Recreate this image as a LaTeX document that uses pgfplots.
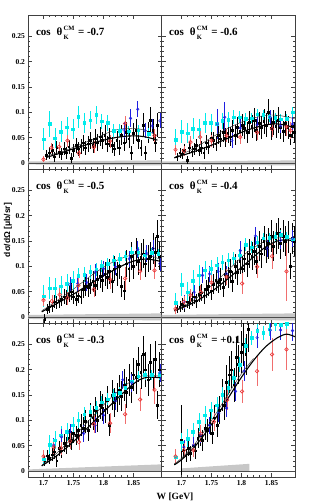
\documentclass[border=0pt]{standalone}
\usepackage{pgfplots}
\pgfplotsset{compat=1.18}
\usepackage{fontspec}
\setmainfont{Liberation Serif}
\newfontfamily\sansb{Liberation Sans}
\definecolor{cyn}{RGB}{0,235,235}
\definecolor{blu}{RGB}{30,30,225}
\definecolor{rd}{RGB}{235,55,55}
\definecolor{rdl}{RGB}{240,110,110}
\newcommand{\ttl}[1]{\fontsize{11}{12}\selectfont\bfseries cos\hspace{0.55em}θ\kern1.2pt\raisebox{-0.75ex}{\rlap{\fontsize{6.5}{7}\selectfont K}}\raisebox{1.05ex}{\fontsize{6.5}{7}\selectfont CM}\kern0.8pt{} = #1}
\pgfplotsset{
  panel/.style={scale only axis, width=133.2pt, height=154pt,
    ymin=-0.012, ymax=0.292, axis line style={line width=0.6pt, black!75},
    ytick={0,0.05,0.1,0.15,0.2,0.25}, yticklabels={0,0.05,0.1,0.15,0.2,0.25},
    xtick={1.7,1.75,1.8,1.85}, xticklabels={1.7,1.75,1.8,1.85},
    minor x tick num=4, minor y tick num=4,
    major tick length=4pt, minor tick length=2pt,
    tick style={line width=0.4pt, black!75},
    tick pos=both, tick align=inside,
    ticklabel style={font=\fontsize{7.5}{8}\selectfont\bfseries},
    scaled ticks=false},
  leftcol/.style={xmin=1.675, xmax=1.897},
  rightcol/.style={xmin=1.667, xmax=1.889, yticklabels={}},
  notx/.style={xticklabels={}},
  blk/.style={only marks, mark=square*, mark size=0.85pt, black,
    error bars/.cd, y dir=both, y explicit, error mark=none, error bar style={line width=0.4pt, black}},
  cy/.style={only marks, mark=square*, mark size=1.25pt, cyn,
    error bars/.cd, y dir=both, y explicit, error mark=none, error bar style={line width=0.5pt, cyn}},
  bl/.style={only marks, mark=o, mark size=1.3pt, blu, mark options={line width=0.5pt},
    error bars/.cd, y dir=both, y explicit, error mark=none, error bar style={line width=0.5pt, blu}},
  rdd/.style={only marks, mark=o, mark size=1.8pt, rd, mark options={line width=0.6pt},
    error bars/.cd, y dir=both, y explicit, error mark=none, error bar style={line width=0.5pt, rdl}},
  thk/.style={smooth, no marks, black, line width=1.1pt},
  thn/.style={smooth, no marks, black!80, line width=0.45pt},
  band/.style={fill=black!22, draw=none},
  zl/.style={black!70, line width=0.5pt, no marks},
}
\begin{document}
\begin{tikzpicture}
\useasboundingbox (0pt,0pt) rectangle (311pt,-504pt);
% ---------------- cos = -0.7
\begin{axis}[panel, leftcol, notx, at={(28.5pt,-15pt)}, anchor=north west]
\addplot[band] coordinates {(1.675,-0.003) (1.897,-0.005) (1.897,0.005) (1.675,0.003)} -- cycle;
\addplot[zl] coordinates {(1.675,0) (1.897,0)};
\addplot[blk] coordinates {
(1.705,0.015) +- (0,0.010) (1.710,0.020) +- (0,0.012) (1.714,0.025) +- (0,0.012) (1.718,0.012) +- (0,0.010)
(1.722,0.030) +- (0,0.013) (1.726,0.022) +- (0,0.012) (1.730,0.018) +- (0,0.012) (1.734,0.028) +- (0,0.013)
(1.738,0.020) +- (0,0.012) (1.742,0.032) +- (0,0.014) (1.746,0.010) +- (0,0.010) (1.750,0.025) +- (0,0.013)
(1.754,0.035) +- (0,0.015) (1.758,0.028) +- (0,0.014) (1.762,0.033) +- (0,0.015) (1.766,0.040) +- (0,0.016)
(1.770,0.030) +- (0,0.014) (1.774,0.038) +- (0,0.016) (1.778,0.045) +- (0,0.017) (1.782,0.035) +- (0,0.015)
(1.786,0.048) +- (0,0.018) (1.790,0.040) +- (0,0.017) (1.794,0.052) +- (0,0.018) (1.798,0.045) +- (0,0.017)
(1.802,0.055) +- (0,0.019) (1.806,0.038) +- (0,0.016) (1.810,0.050) +- (0,0.018) (1.814,0.035) +- (0,0.016)
(1.818,0.028) +- (0,0.014) (1.822,0.045) +- (0,0.018) (1.826,0.030) +- (0,0.015) (1.830,0.055) +- (0,0.019)
(1.834,0.040) +- (0,0.017) (1.838,0.060) +- (0,0.020) (1.842,0.048) +- (0,0.018) (1.846,0.020) +- (0,0.014)
(1.850,0.058) +- (0,0.020) (1.854,0.065) +- (0,0.022) (1.858,0.045) +- (0,0.018) (1.862,0.030) +- (0,0.016)
(1.866,0.075) +- (0,0.023) (1.870,0.020) +- (0,0.014) (1.874,0.060) +- (0,0.021) (1.878,0.085) +- (0,0.025)
(1.882,0.065) +- (0,0.022) (1.886,0.040) +- (0,0.018) (1.890,0.075) +- (0,0.023)};
\addplot[cy] coordinates {
(1.700,0.047) +- (0,0.022) (1.710,0.077) +- (0,0.025) (1.719,0.049) +- (0,0.020) (1.729,0.062) +- (0,0.020)
(1.739,0.071) +- (0,0.020) (1.749,0.067) +- (0,0.020) (1.758,0.091) +- (0,0.022) (1.768,0.079) +- (0,0.020)
(1.778,0.084) +- (0,0.018) (1.788,0.095) +- (0,0.018) (1.797,0.082) +- (0,0.015) (1.807,0.079) +- (0,0.015)
(1.817,0.064) +- (0,0.012) (1.827,0.064) +- (0,0.012) (1.842,0.063) +- (0,0.010) (1.858,0.065) +- (0,0.010)
(1.875,0.058) +- (0,0.010)};
\addplot[bl] coordinates {
(1.834,0.065) +- (0,0.015) (1.845,0.088) +- (0,0.018) (1.857,0.106) +- (0,0.016) (1.869,0.064) +- (0,0.014)
(1.881,0.073) +- (0,0.014) (1.894,0.083) +- (0,0.015)};
\addplot[rdd] coordinates {
(1.700,0.007) +- (0,0.006) (1.713,0.030) +- (0,0.010) (1.726,0.032) +- (0,0.010) (1.740,0.044) +- (0,0.012)
(1.759,0.019) +- (0,0.010) (1.784,0.031) +- (0,0.012) (1.811,0.043) +- (0,0.013) (1.836,0.078) +- (0,0.014)
(1.885,0.054) +- (0,0.012)};
\addplot[thn] coordinates {(1.705,0.014) (1.73,0.022) (1.75,0.031) (1.775,0.043) (1.80,0.056) (1.82,0.065) (1.84,0.068) (1.86,0.067) (1.875,0.062) (1.89,0.054)};
\addplot[thk] coordinates {(1.705,0.011) (1.73,0.020) (1.75,0.028) (1.775,0.037) (1.80,0.045) (1.82,0.050) (1.84,0.053) (1.86,0.053) (1.875,0.050) (1.89,0.045)};
\node[anchor=west] at (rel axis cs:0.03,0.885) {\ttl{-0.7}};
\end{axis}
% ---------------- cos = -0.6
\begin{axis}[panel, rightcol, notx, at={(161.7pt,-15pt)}, anchor=north west]
\addplot[band] coordinates {(1.667,-0.003) (1.889,-0.005) (1.889,0.005) (1.667,0.003)} -- cycle;
\addplot[zl] coordinates {(1.667,0) (1.889,0)};
\addplot[blk] coordinates {
(1.692,0.012) +- (0,0.008) (1.697,0.020) +- (0,0.010) (1.701,0.018) +- (0,0.010) (1.705,0.025) +- (0,0.012)
(1.709,0.005) +- (0,0.008) (1.713,0.030) +- (0,0.012) (1.717,0.022) +- (0,0.011) (1.721,0.028) +- (0,0.012)
(1.725,0.035) +- (0,0.013) (1.729,0.025) +- (0,0.012) (1.733,0.030) +- (0,0.013) (1.737,0.020) +- (0,0.012)
(1.741,0.040) +- (0,0.015) (1.745,0.032) +- (0,0.014) (1.749,0.050) +- (0,0.017) (1.753,0.045) +- (0,0.016)
(1.757,0.038) +- (0,0.015) (1.761,0.055) +- (0,0.018) (1.765,0.048) +- (0,0.017) (1.769,0.060) +- (0,0.019)
(1.773,0.050) +- (0,0.018) (1.777,0.058) +- (0,0.019) (1.781,0.052) +- (0,0.018) (1.785,0.065) +- (0,0.020)
(1.789,0.055) +- (0,0.019) (1.793,0.070) +- (0,0.021) (1.797,0.062) +- (0,0.020) (1.801,0.075) +- (0,0.022)
(1.805,0.068) +- (0,0.021) (1.809,0.060) +- (0,0.020) (1.813,0.080) +- (0,0.023) (1.817,0.072) +- (0,0.022)
(1.821,0.085) +- (0,0.024) (1.825,0.065) +- (0,0.021) (1.829,0.078) +- (0,0.023) (1.833,0.070) +- (0,0.022)
(1.837,0.082) +- (0,0.024) (1.841,0.075) +- (0,0.023) (1.845,0.100) +- (0,0.026) (1.849,0.068) +- (0,0.022)
(1.853,0.080) +- (0,0.024) (1.857,0.072) +- (0,0.023) (1.861,0.085) +- (0,0.025) (1.865,0.070) +- (0,0.022)
(1.869,0.062) +- (0,0.021) (1.873,0.078) +- (0,0.024) (1.877,0.070) +- (0,0.023) (1.881,0.055) +- (0,0.020)
(1.885,0.072) +- (0,0.023) (1.888,0.060) +- (0,0.021)};
\addplot[cy] coordinates {
(1.690,0.046) +- (0,0.020) (1.700,0.062) +- (0,0.022) (1.710,0.059) +- (0,0.020) (1.719,0.068) +- (0,0.020)
(1.729,0.067) +- (0,0.020) (1.739,0.079) +- (0,0.020) (1.749,0.079) +- (0,0.018) (1.759,0.077) +- (0,0.018)
(1.768,0.083) +- (0,0.016) (1.778,0.085) +- (0,0.015) (1.787,0.090) +- (0,0.014) (1.797,0.090) +- (0,0.012)
(1.807,0.087) +- (0,0.012) (1.817,0.088) +- (0,0.010) (1.826,0.096) +- (0,0.010) (1.836,0.095) +- (0,0.010)
(1.846,0.091) +- (0,0.010) (1.856,0.089) +- (0,0.010) (1.865,0.086) +- (0,0.010) (1.875,0.087) +- (0,0.010)
(1.885,0.100) +- (0,0.010)};
\addplot[bl] coordinates {
(1.760,0.077) +- (0,0.030) (1.772,0.090) +- (0,0.030) (1.784,0.044) +- (0,0.015) (1.798,0.069) +- (0,0.018)
(1.826,0.075) +- (0,0.015) (1.848,0.090) +- (0,0.015) (1.865,0.073) +- (0,0.014) (1.885,0.077) +- (0,0.014)};
\addplot[rdd] coordinates {
(1.690,0.026) +- (0,0.010) (1.704,0.024) +- (0,0.010) (1.715,0.041) +- (0,0.012) (1.731,0.051) +- (0,0.013)
(1.750,0.044) +- (0,0.012) (1.775,0.054) +- (0,0.013) (1.798,0.051) +- (0,0.014) (1.826,0.060) +- (0,0.015)
(1.851,0.067) +- (0,0.016) (1.875,0.071) +- (0,0.018) (1.882,0.064) +- (0,0.016)};
\addplot[thn] coordinates {(1.688,0.011) (1.72,0.028) (1.75,0.050) (1.78,0.070) (1.81,0.085) (1.84,0.094) (1.86,0.094) (1.875,0.091) (1.889,0.087)};
\addplot[thk] coordinates {(1.688,0.010) (1.72,0.022) (1.75,0.035) (1.78,0.050) (1.81,0.065) (1.84,0.075) (1.86,0.077) (1.875,0.074) (1.889,0.069)};
\node[anchor=west] at (rel axis cs:0.03,0.885) {\ttl{-0.6}};
\end{axis}
% ---------------- cos = -0.5
\begin{axis}[panel, leftcol, notx, at={(28.5pt,-169pt)}, anchor=north west]
\addplot[band] coordinates {(1.675,-0.004) (1.897,-0.007) (1.897,0.007) (1.675,0.004)} -- cycle;
\addplot[zl] coordinates {(1.675,0) (1.897,0)};
\addplot[blk] coordinates {
(1.702,-0.005) +- (0,0.010) (1.706,0.015) +- (0,0.010) (1.710,0.020) +- (0,0.012) (1.714,0.022) +- (0,0.012)
(1.718,0.030) +- (0,0.013) (1.722,0.028) +- (0,0.013) (1.726,0.032) +- (0,0.014) (1.730,0.035) +- (0,0.014)
(1.734,0.040) +- (0,0.015) (1.738,0.038) +- (0,0.015) (1.742,0.045) +- (0,0.016) (1.746,0.050) +- (0,0.017)
(1.750,0.040) +- (0,0.015) (1.754,0.035) +- (0,0.014) (1.758,0.042) +- (0,0.015) (1.762,0.040) +- (0,0.015)
(1.766,0.055) +- (0,0.018) (1.770,0.060) +- (0,0.019) (1.774,0.058) +- (0,0.019) (1.778,0.065) +- (0,0.020)
(1.782,0.070) +- (0,0.021) (1.786,0.062) +- (0,0.020) (1.790,0.075) +- (0,0.022) (1.794,0.080) +- (0,0.023)
(1.798,0.072) +- (0,0.022) (1.802,0.085) +- (0,0.024) (1.806,0.078) +- (0,0.023) (1.810,0.090) +- (0,0.025)
(1.814,0.070) +- (0,0.022) (1.818,0.095) +- (0,0.025) (1.822,0.085) +- (0,0.024) (1.826,0.100) +- (0,0.026)
(1.830,0.060) +- (0,0.020) (1.834,0.052) +- (0,0.018) (1.838,0.105) +- (0,0.027) (1.842,0.095) +- (0,0.026)
(1.846,0.120) +- (0,0.028) (1.850,0.100) +- (0,0.026) (1.854,0.128) +- (0,0.028) (1.858,0.110) +- (0,0.027)
(1.862,0.118) +- (0,0.028) (1.866,0.125) +- (0,0.028) (1.870,0.105) +- (0,0.026) (1.874,0.115) +- (0,0.027)
(1.878,0.120) +- (0,0.028) (1.882,0.135) +- (0,0.030) (1.886,0.128) +- (0,0.029) (1.890,0.160) +- (0,0.032)
(1.893,0.120) +- (0,0.028)};
\addplot[cy] coordinates {
(1.700,0.041) +- (0,0.022) (1.710,0.057) +- (0,0.022) (1.719,0.057) +- (0,0.020) (1.729,0.061) +- (0,0.020)
(1.739,0.066) +- (0,0.018) (1.749,0.072) +- (0,0.018) (1.758,0.081) +- (0,0.016) (1.768,0.083) +- (0,0.015)
(1.778,0.089) +- (0,0.014) (1.788,0.094) +- (0,0.013) (1.797,0.101) +- (0,0.012) (1.807,0.105) +- (0,0.012)
(1.817,0.112) +- (0,0.011) (1.827,0.115) +- (0,0.011) (1.836,0.120) +- (0,0.010) (1.847,0.128) +- (0,0.010)
(1.858,0.128) +- (0,0.010) (1.869,0.122) +- (0,0.010) (1.880,0.127) +- (0,0.010) (1.891,0.125) +- (0,0.010)};
\addplot[bl] coordinates {
(1.744,0.064) +- (0,0.015) (1.757,0.066) +- (0,0.015) (1.772,0.068) +- (0,0.016) (1.786,0.089) +- (0,0.016)
(1.800,0.095) +- (0,0.016) (1.820,0.099) +- (0,0.016) (1.843,0.115) +- (0,0.016) (1.857,0.133) +- (0,0.016)
(1.872,0.125) +- (0,0.016) (1.883,0.135) +- (0,0.016) (1.894,0.105) +- (0,0.015)};
\addplot[rdd] coordinates {
(1.700,0.033) +- (0,0.012) (1.714,0.031) +- (0,0.012) (1.727,0.044) +- (0,0.013) (1.740,0.037) +- (0,0.013)
(1.758,0.062) +- (0,0.015) (1.784,0.054) +- (0,0.015) (1.811,0.074) +- (0,0.018) (1.836,0.076) +- (0,0.022)
(1.861,0.090) +- (0,0.018) (1.885,0.092) +- (0,0.018)};
\addplot[thn] coordinates {(1.697,0.012) (1.72,0.030) (1.75,0.055) (1.78,0.082) (1.81,0.105) (1.84,0.120) (1.86,0.124) (1.875,0.122) (1.894,0.114)};
\addplot[thk] coordinates {(1.697,0.010) (1.72,0.025) (1.75,0.045) (1.78,0.067) (1.81,0.088) (1.84,0.106) (1.86,0.113) (1.875,0.114) (1.894,0.110)};
\node[anchor=west] at (rel axis cs:0.03,0.885) {\ttl{-0.5}};
\end{axis}
% ---------------- cos = -0.4
\begin{axis}[panel, rightcol, notx, at={(161.7pt,-169pt)}, anchor=north west]
\addplot[band] coordinates {(1.667,-0.004) (1.889,-0.007) (1.889,0.007) (1.667,0.004)} -- cycle;
\addplot[zl] coordinates {(1.667,0) (1.889,0)};
\addplot[blk] coordinates {
(1.692,0.018) +- (0,0.010) (1.697,0.020) +- (0,0.011) (1.701,0.025) +- (0,0.012) (1.705,0.022) +- (0,0.012)
(1.709,0.030) +- (0,0.013) (1.713,0.028) +- (0,0.013) (1.717,0.035) +- (0,0.014) (1.721,0.040) +- (0,0.015)
(1.725,0.032) +- (0,0.014) (1.729,0.045) +- (0,0.016) (1.733,0.048) +- (0,0.017) (1.737,0.042) +- (0,0.016)
(1.741,0.055) +- (0,0.018) (1.745,0.060) +- (0,0.019) (1.749,0.052) +- (0,0.018) (1.753,0.065) +- (0,0.020)
(1.757,0.072) +- (0,0.021) (1.761,0.068) +- (0,0.021) (1.765,0.075) +- (0,0.022) (1.769,0.058) +- (0,0.019)
(1.773,0.085) +- (0,0.023) (1.777,0.080) +- (0,0.023) (1.781,0.090) +- (0,0.024) (1.785,0.070) +- (0,0.021)
(1.789,0.100) +- (0,0.025) (1.793,0.088) +- (0,0.024) (1.797,0.110) +- (0,0.026) (1.801,0.095) +- (0,0.025)
(1.805,0.115) +- (0,0.027) (1.809,0.105) +- (0,0.026) (1.813,0.125) +- (0,0.028) (1.817,0.120) +- (0,0.027)
(1.821,0.130) +- (0,0.028) (1.825,0.110) +- (0,0.026) (1.829,0.140) +- (0,0.029) (1.833,0.125) +- (0,0.028)
(1.837,0.150) +- (0,0.030) (1.841,0.135) +- (0,0.029) (1.845,0.145) +- (0,0.030) (1.849,0.160) +- (0,0.031)
(1.853,0.140) +- (0,0.029) (1.857,0.155) +- (0,0.030) (1.861,0.165) +- (0,0.031) (1.865,0.145) +- (0,0.030)
(1.869,0.160) +- (0,0.031) (1.873,0.150) +- (0,0.030) (1.877,0.158) +- (0,0.031) (1.881,0.100) +- (0,0.026)
(1.885,0.155) +- (0,0.030) (1.888,0.150) +- (0,0.030)};
\addplot[cy] coordinates {
(1.690,0.028) +- (0,0.020) (1.700,0.064) +- (0,0.022) (1.710,0.049) +- (0,0.020) (1.719,0.072) +- (0,0.020)
(1.729,0.082) +- (0,0.020) (1.739,0.092) +- (0,0.018) (1.749,0.095) +- (0,0.018) (1.759,0.102) +- (0,0.016)
(1.768,0.108) +- (0,0.015) (1.778,0.112) +- (0,0.014) (1.787,0.116) +- (0,0.013) (1.797,0.122) +- (0,0.012)
(1.807,0.143) +- (0,0.012) (1.817,0.138) +- (0,0.011) (1.826,0.148) +- (0,0.011) (1.836,0.155) +- (0,0.010)
(1.846,0.156) +- (0,0.010) (1.856,0.158) +- (0,0.010) (1.865,0.162) +- (0,0.010) (1.875,0.158) +- (0,0.010)
(1.885,0.153) +- (0,0.010)};
\addplot[bl] coordinates {
(1.704,0.030) +- (0,0.014) (1.721,0.049) +- (0,0.015) (1.735,0.082) +- (0,0.016) (1.747,0.085) +- (0,0.016)
(1.761,0.090) +- (0,0.016) (1.775,0.085) +- (0,0.016) (1.798,0.131) +- (0,0.018) (1.823,0.160) +- (0,0.018)
(1.843,0.135) +- (0,0.017) (1.865,0.151) +- (0,0.017) (1.885,0.155) +- (0,0.017)};
\addplot[rdd] coordinates {
(1.690,0.016) +- (0,0.010) (1.704,0.030) +- (0,0.012) (1.715,0.043) +- (0,0.013) (1.732,0.049) +- (0,0.014)
(1.750,0.068) +- (0,0.015) (1.775,0.079) +- (0,0.016) (1.801,0.066) +- (0,0.020) (1.826,0.099) +- (0,0.022)
(1.851,0.120) +- (0,0.025) (1.875,0.090) +- (0,0.058)};
\addplot[thn] coordinates {(1.688,0.013) (1.72,0.033) (1.75,0.062) (1.78,0.095) (1.81,0.128) (1.84,0.150) (1.86,0.156) (1.875,0.156) (1.889,0.153)};
\addplot[thk] coordinates {(1.688,0.012) (1.72,0.028) (1.75,0.050) (1.78,0.078) (1.81,0.108) (1.84,0.138) (1.86,0.150) (1.875,0.152) (1.889,0.150)};
\node[anchor=west] at (rel axis cs:0.03,0.885) {\ttl{-0.4}};
\end{axis}
% ---------------- cos = -0.3
\begin{axis}[panel, leftcol, at={(28.5pt,-323pt)}, anchor=north west]
\addplot[band] coordinates {(1.675,0) (1.897,0) (1.897,0.013) (1.675,0.003)} -- cycle;
\addplot[zl] coordinates {(1.675,0) (1.897,0)};
\addplot[blk] coordinates {
(1.702,0.020) +- (0,0.010) (1.706,0.030) +- (0,0.012) (1.710,0.025) +- (0,0.012) (1.714,0.032) +- (0,0.013)
(1.718,0.038) +- (0,0.014) (1.722,0.020) +- (0,0.012) (1.726,0.045) +- (0,0.015) (1.730,0.040) +- (0,0.015)
(1.734,0.055) +- (0,0.017) (1.738,0.050) +- (0,0.016) (1.742,0.065) +- (0,0.018) (1.746,0.060) +- (0,0.018)
(1.750,0.075) +- (0,0.020) (1.754,0.070) +- (0,0.019) (1.758,0.080) +- (0,0.021) (1.762,0.090) +- (0,0.022)
(1.766,0.085) +- (0,0.022) (1.770,0.098) +- (0,0.023) (1.774,0.080) +- (0,0.021) (1.778,0.110) +- (0,0.025)
(1.782,0.105) +- (0,0.024) (1.786,0.120) +- (0,0.026) (1.790,0.100) +- (0,0.024) (1.794,0.130) +- (0,0.027)
(1.798,0.125) +- (0,0.026) (1.802,0.120) +- (0,0.026) (1.806,0.140) +- (0,0.028) (1.810,0.090) +- (0,0.022)
(1.814,0.150) +- (0,0.029) (1.818,0.135) +- (0,0.028) (1.822,0.145) +- (0,0.029) (1.826,0.160) +- (0,0.030)
(1.830,0.148) +- (0,0.029) (1.834,0.170) +- (0,0.031) (1.838,0.155) +- (0,0.030) (1.842,0.180) +- (0,0.032)
(1.846,0.165) +- (0,0.031) (1.850,0.190) +- (0,0.033) (1.854,0.185) +- (0,0.033) (1.858,0.210) +- (0,0.035)
(1.862,0.195) +- (0,0.034) (1.866,0.230) +- (0,0.036) (1.870,0.200) +- (0,0.034) (1.874,0.180) +- (0,0.032)
(1.878,0.215) +- (0,0.035) (1.882,0.190) +- (0,0.033) (1.886,0.220) +- (0,0.036) (1.890,0.130) +- (0,0.028)
(1.893,0.200) +- (0,0.034)};
\addplot[cy] coordinates {
(1.700,0.023) +- (0,0.012) (1.710,0.052) +- (0,0.018) (1.719,0.061) +- (0,0.018) (1.729,0.071) +- (0,0.018)
(1.739,0.077) +- (0,0.018) (1.749,0.090) +- (0,0.017) (1.758,0.100) +- (0,0.016) (1.768,0.112) +- (0,0.015)
(1.778,0.117) +- (0,0.014) (1.788,0.125) +- (0,0.013) (1.797,0.136) +- (0,0.012) (1.807,0.142) +- (0,0.012)
(1.817,0.150) +- (0,0.011) (1.827,0.154) +- (0,0.011) (1.836,0.164) +- (0,0.010) (1.847,0.177) +- (0,0.010)
(1.858,0.187) +- (0,0.010) (1.869,0.190) +- (0,0.010) (1.880,0.190) +- (0,0.010) (1.893,0.190) +- (0,0.010)};
\addplot[bl] coordinates {
(1.717,0.051) +- (0,0.014) (1.730,0.067) +- (0,0.015) (1.744,0.077) +- (0,0.016) (1.767,0.074) +- (0,0.016)
(1.786,0.090) +- (0,0.016) (1.800,0.110) +- (0,0.017) (1.820,0.138) +- (0,0.018) (1.832,0.180) +- (0,0.018)
(1.847,0.174) +- (0,0.018) (1.894,0.194) +- (0,0.018)};
\addplot[rdd] coordinates {
(1.700,0.029) +- (0,0.012) (1.717,0.047) +- (0,0.013) (1.729,0.045) +- (0,0.013) (1.744,0.059) +- (0,0.015)
(1.759,0.057) +- (0,0.015) (1.784,0.092) +- (0,0.018) (1.811,0.094) +- (0,0.020) (1.836,0.112) +- (0,0.020)
(1.861,0.141) +- (0,0.022) (1.885,0.160) +- (0,0.028)};
\addplot[thn] coordinates {(1.697,0.011) (1.72,0.033) (1.75,0.067) (1.78,0.105) (1.81,0.142) (1.84,0.172) (1.86,0.186) (1.875,0.189) (1.894,0.187)};
\addplot[thk] coordinates {(1.697,0.010) (1.72,0.028) (1.75,0.058) (1.78,0.093) (1.81,0.128) (1.84,0.162) (1.86,0.180) (1.875,0.185) (1.894,0.184)};
\node[anchor=west] at (rel axis cs:0.03,0.885) {\ttl{-0.3}};
\end{axis}
% ---------------- cos = +0.1
\begin{axis}[panel, rightcol, at={(161.7pt,-323pt)}, anchor=north west]
\addplot[band] coordinates {(1.699,0) (1.813,0) (1.813,0.014) (1.699,0.005)} -- cycle;
\addplot[zl] coordinates {(1.667,0) (1.889,0)};
\addplot[blk] coordinates {
(1.700,0.061) +- (0,0.070) (1.703,0.040) +- (0,0.014) (1.707,0.030) +- (0,0.013) (1.711,0.045) +- (0,0.016)
(1.715,0.035) +- (0,0.015) (1.719,0.050) +- (0,0.017) (1.723,0.040) +- (0,0.016) (1.727,0.065) +- (0,0.020)
(1.731,0.070) +- (0,0.021) (1.735,0.060) +- (0,0.020) (1.739,0.085) +- (0,0.023) (1.743,0.080) +- (0,0.023)
(1.747,0.095) +- (0,0.025) (1.751,0.075) +- (0,0.022) (1.755,0.105) +- (0,0.026) (1.759,0.090) +- (0,0.024)
(1.763,0.120) +- (0,0.028) (1.767,0.150) +- (0,0.032) (1.771,0.130) +- (0,0.030) (1.775,0.175) +- (0,0.035)
(1.779,0.190) +- (0,0.036) (1.783,0.200) +- (0,0.037) (1.787,0.170) +- (0,0.034) (1.791,0.225) +- (0,0.040)
(1.795,0.210) +- (0,0.038) (1.799,0.235) +- (0,0.041) (1.803,0.250) +- (0,0.042) (1.807,0.230) +- (0,0.040)
(1.811,0.280) +- (0,0.045)};
\addplot[cy] coordinates {
(1.690,0.027) +- (0,0.015) (1.700,0.057) +- (0,0.018) (1.710,0.064) +- (0,0.018) (1.719,0.077) +- (0,0.018)
(1.729,0.097) +- (0,0.018) (1.739,0.110) +- (0,0.018) (1.749,0.120) +- (0,0.017) (1.759,0.130) +- (0,0.016)
(1.768,0.150) +- (0,0.016) (1.778,0.164) +- (0,0.015) (1.787,0.184) +- (0,0.015) (1.797,0.210) +- (0,0.015)
(1.807,0.247) +- (0,0.015) (1.817,0.263) +- (0,0.014) (1.826,0.277) +- (0,0.014) (1.836,0.273) +- (0,0.014)
(1.846,0.280) +- (0,0.014) (1.856,0.290) +- (0,0.014) (1.865,0.289) +- (0,0.014) (1.875,0.291) +- (0,0.014)};
\addplot[bl] coordinates {
(1.704,0.047) +- (0,0.015) (1.720,0.051) +- (0,0.015) (1.732,0.071) +- (0,0.016) (1.747,0.090) +- (0,0.017)
(1.762,0.114) +- (0,0.018) (1.775,0.124) +- (0,0.018) (1.790,0.157) +- (0,0.019) (1.804,0.197) +- (0,0.020)
(1.826,0.263) +- (0,0.020) (1.848,0.278) +- (0,0.020) (1.865,0.278) +- (0,0.020) (1.885,0.277) +- (0,0.020)};
\addplot[rdd] coordinates {
(1.690,0.029) +- (0,0.015) (1.704,0.041) +- (0,0.014) (1.720,0.041) +- (0,0.014) (1.732,0.074) +- (0,0.016)
(1.754,0.097) +- (0,0.018) (1.776,0.140) +- (0,0.020) (1.801,0.157) +- (0,0.022) (1.826,0.197) +- (0,0.030)
(1.851,0.230) +- (0,0.032) (1.875,0.240) +- (0,0.040)};
\addplot[thn] coordinates {(1.688,0.014) (1.70,0.025) (1.72,0.050) (1.74,0.082) (1.76,0.118) (1.78,0.156) (1.80,0.192) (1.82,0.222)};
\addplot[thk] coordinates {(1.688,0.012) (1.70,0.022) (1.72,0.045) (1.74,0.075) (1.76,0.110) (1.78,0.148) (1.80,0.185) (1.82,0.218) (1.84,0.245) (1.86,0.263) (1.875,0.270) (1.889,0.265)};
\node[anchor=west] at (rel axis cs:0.03,0.885) {\ttl{+0.1}};
\end{axis}
% labels
\node[rotate=90] at (8pt,-230pt) {\sansb\bfseries\fontsize{8.5}{9}\selectfont dσ/dΩ [μb/sr]};
\node at (175pt,-497pt) {\fontsize{9.5}{10}\selectfont\bfseries W [GeV]};
\end{tikzpicture}
\end{document}
